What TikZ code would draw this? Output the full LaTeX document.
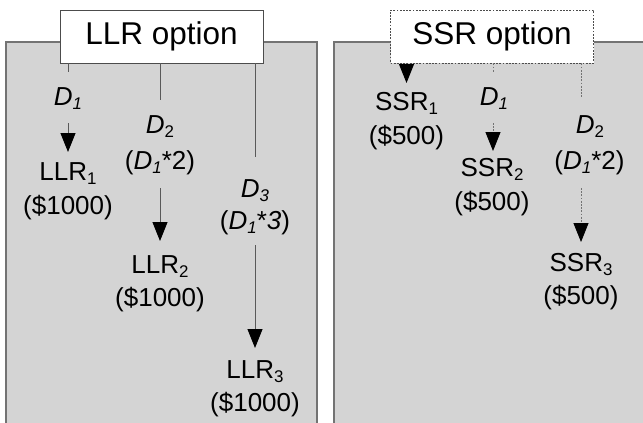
\documentclass[tikz,border=0pt]{standalone}
\usepackage{fontspec}
\setmainfont{Liberation Sans}
\usetikzlibrary{arrows.meta}
\newcommand{\lowsub}[1]{\raisebox{-4pt}{\scalebox{0.65}{#1}}}
\definecolor{panelgray}{RGB}{212,212,212}
\definecolor{edgegray}{RGB}{115,115,115}
\begin{document}
\begin{tikzpicture}[x=1pt,y=-1pt,
  panel/.style={fill=panelgray,draw=edgegray,line width=1.4pt},
  titlebox/.style={fill=white,line width=0.9pt,minimum width=203pt,minimum height=53pt,inner sep=0pt,font=\fontsize{31.5}{31.5}\selectfont},
  lbl/.style={anchor=base,inner sep=0pt,font=\fontsize{26}{30}\selectfont},
  solidc/.style={draw=black!65,line width=0.9pt},
  dotc/.style={draw=black!55,line width=0.9pt,dash pattern=on 1.8pt off 1.4pt},
  tip/.style={-{Triangle[width=15pt,length=19pt,color=black]}}
]
\useasboundingbox (0,0) rectangle (643,423);
\begin{scope}
  \clip (0,0) rectangle (643,423);
  \draw[panel] (6,42) rectangle (317,440);
  \draw[panel] (334,42) rectangle (660,440);
\end{scope}

% title boxes
\node[titlebox,draw=black!70] (llr) at (161.5,36.5) {LLR option};
\node[titlebox,draw=black!70,dash pattern=on 1.8pt off 1.4pt] (ssr) at (492,36.5) {SSR option};

% ---------- LLR panel ----------
\node[lbl] (d1a) at (68,105) {\textit{D}\lowsub{\textit{1}}};
\node[lbl] (llr1) at (68,180) {LLR\lowsub{1}};
\node[lbl] (llr1c) at (68,214) {(\$1000)};

\node[lbl] (d2a) at (160,133) {\textit{D}\lowsub{2}};
\node[lbl] (d2af) at (160,169) {(\textit{D}\lowsub{\textit{1}}*2)};
\node[lbl] (llr2) at (160,273) {LLR\lowsub{2}};
\node[lbl] (llr2c) at (160,306) {(\$1000)};

\node[lbl] (d3a) at (255,197) {\textit{D}\lowsub{\textit{3}}};
\node[lbl] (d3af) at (255,229) {(\textit{D}\lowsub{\textit{1}}*\textit{3})};
\node[lbl] (llr3) at (255,378) {LLR\lowsub{3}};
\node[lbl] (llr3c) at (255,411) {(\$1000)};

\coordinate (l1a) at (68,72);
\coordinate (l1s) at (68,123);
\coordinate (l1e) at (68,152);
\coordinate (l2a) at (160,100);
\coordinate (l2s) at (160,188);
\coordinate (l2e) at (160,241);
\coordinate (l3a) at (255,157);
\coordinate (l3s) at (255,245);
\coordinate (l3e) at (255,348);

\draw[solidc] (llr.south -| l1a) -- (l1a);
\draw[solidc,tip] (l1s) -- (l1e);
\draw[solidc] (llr.south -| l2a) -- (l2a);
\draw[solidc,tip] (l2s) -- (l2e);
\draw[solidc] (llr.south -| l3a) -- (l3a);
\draw[solidc,tip] (l3s) -- (l3e);

% ---------- SSR panel ----------
\node[lbl] (ssr1) at (406.5,110) {SSR\lowsub{1}};
\node[lbl] (ssr1c) at (406.5,144) {(\$500)};

\node[lbl] (d1b) at (494,105) {\textit{D}\lowsub{\textit{1}}};
\node[lbl] (ssr2) at (492,176) {SSR\lowsub{2}};
\node[lbl] (ssr2c) at (492,210) {(\$500)};

\node[lbl] (d2b) at (590,133) {\textit{D}\lowsub{2}};
\node[lbl] (d2bf) at (589.5,169) {(\textit{D}\lowsub{\textit{1}}*2)};
\node[lbl] (ssr3) at (581,271) {SSR\lowsub{3}};
\node[lbl] (ssr3c) at (581,304) {(\$500)};

\coordinate (s1e) at (406.5,83);
\coordinate (s2a) at (493,73);
\coordinate (s2s) at (493,123);
\coordinate (s2e) at (493,151);
\coordinate (s3a) at (581,98);
\coordinate (s3s) at (581,188);
\coordinate (s3e) at (581,242);

\draw[solidc,tip] (ssr.south -| s1e) -- (s1e);
\draw[dotc] (ssr.south -| s2a) -- (s2a);
\draw[dotc,tip] (s2s) -- (s2e);
\draw[dotc] (ssr.south -| s3a) -- (s3a);
\draw[dotc,tip] (s3s) -- (s3e);
\end{tikzpicture}
\end{document}
